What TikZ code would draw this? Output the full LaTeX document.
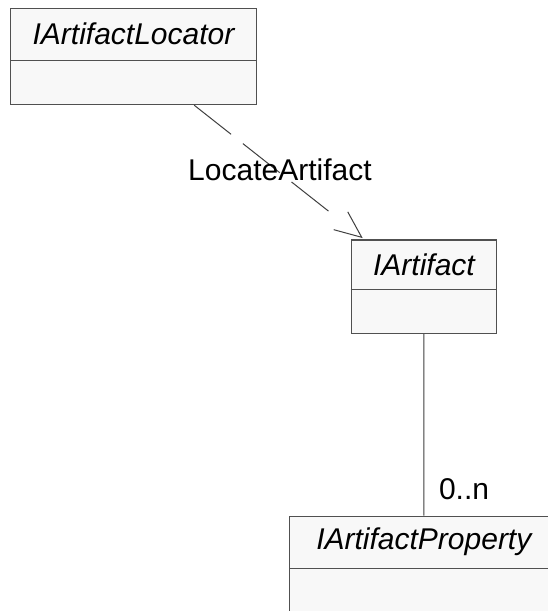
\documentclass[tikz,border=0pt]{standalone}
\usepackage{fontspec}
\setmainfont{Liberation Sans}
\usetikzlibrary{calc}
\definecolor{boxfill}{HTML}{F8F8F8}
\definecolor{boxline}{HTML}{505050}
\definecolor{wire}{HTML}{404040}
\begin{document}
\begin{tikzpicture}[x=1pt,y=-1pt,
  classbox/.style={draw=boxline, fill=boxfill, line width=1.2pt, inner sep=0pt,
    anchor=north west},
  divider/.style={draw=boxline, line width=1.2pt},
  classname/.style={inner sep=0pt, font=\fontsize{30}{36}\selectfont\itshape},
  lab/.style={inner sep=0pt, font=\fontsize{30}{36}\selectfont},
  wire/.style={draw=wire, line width=1pt}]
\useasboundingbox (0,0) rectangle (548,611);
\clip (0,0) rectangle (548,611);
\fill[white] (0,0) rectangle (548,611);

% IArtifactLocator
\node[classbox, minimum width=245.7pt, minimum height=96.5pt] (loc) at (10,7.5) {};
\draw[divider] ($(loc.north west)+(0,53.2)$) -- ($(loc.north east)+(0,53.2)$);
\node[classname] (loct) at ($(loc.north)+(0,26.6)$) {IArtifactLocator};

% IArtifact
\node[classbox, minimum width=145.3pt, minimum height=93.7pt] (art) at (350.7,239.3) {};
\draw[divider] ($(art.north west)+(0,50)$) -- ($(art.north east)+(0,50)$);
\node[classname] (artt) at ($(art.north)+(0,25)$) {IArtifact};

% IArtifactProperty
\node[classbox, minimum width=268.4pt, minimum height=100pt] (prop) at (289,515.7) {};
\draw[divider] ($(prop.north west)+(0,52.6)$) -- ($(prop.north east)+(0,52.6)$);
\node[classname] (propt) at ($(prop.north)+(0,26.3)$) {IArtifactProperty};

% dependency: LocateArtifact
\coordinate (src) at ($(loc.south west)!0.746!(loc.south east)$);
\coordinate (tip) at ($(art.north west)+(11,-2)$);
\draw[wire, dash pattern=on 47pt off 15pt] (src) -- ($(tip)!29pt!(src)$);
\draw[wire] ($(tip)!29pt!23:(src)$) -- (tip) -- ($(tip)!29pt!-23:(src)$);
\node[lab] (dep) at ($(src)!0.5!(tip)+(2,-1.7)$) {LocateArtifact};

% association
\draw[wire] (art.south) -- (prop.north);
\node[lab, anchor=base west] (mult) at ($(prop.north)+(15,-16)$) {0..n};
\end{tikzpicture}
\end{document}
